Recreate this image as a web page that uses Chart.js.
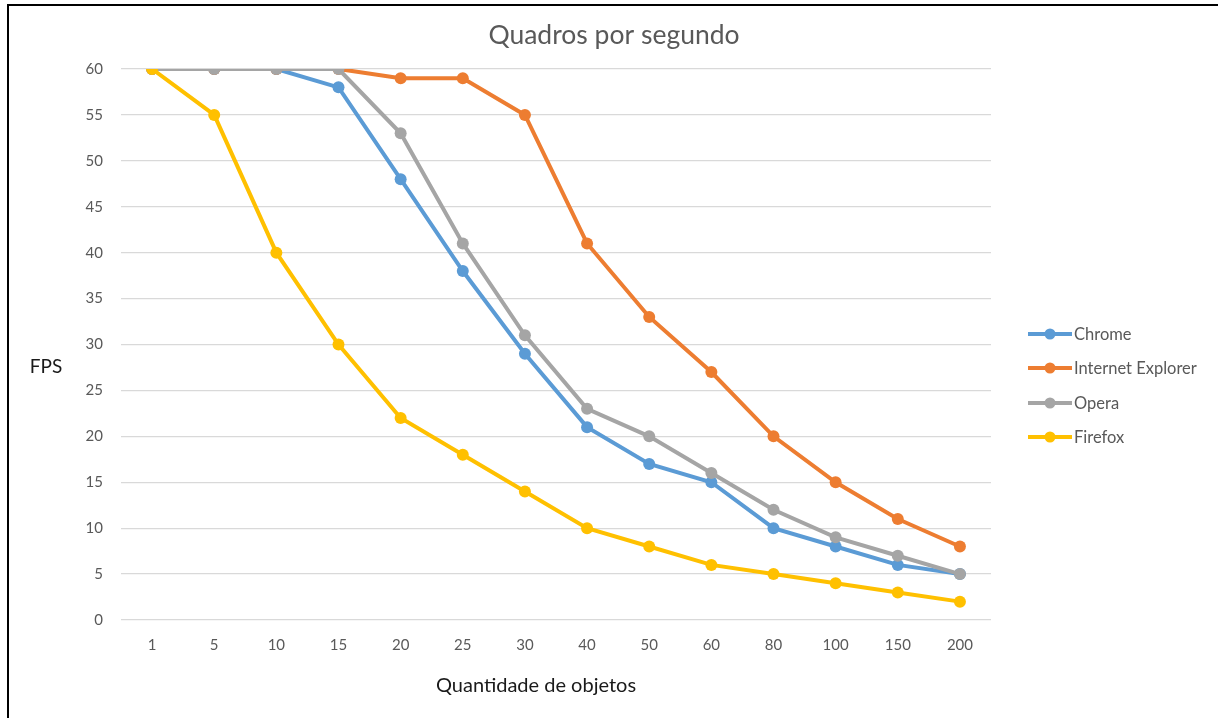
<!DOCTYPE html>
<html>
<head>
<meta charset="utf-8">
<script src="https://cdn.jsdelivr.net/npm/chart.js@4.4.1/dist/chart.umd.min.js"></script>
<style>
html,body{margin:0;padding:0;background:#fff;overflow:hidden;}
#wrap{position:relative;width:1218px;height:718px;}
#frame{position:absolute;left:7px;top:4px;width:1300px;height:800px;border-top:2px solid #000;border-left:2px solid #000;pointer-events:none;}
canvas{position:absolute;left:0;top:0;}
</style>
</head>
<body>
<div id="wrap">
<canvas id="c" width="1218" height="718"></canvas>
<div id="frame"></div>
</div>
<script>
const categories = ['1','5','10','15','20','25','30','40','50','60','80','100','150','200'];
const chrome   = [60,60,60,58,48,38,29,21,17,15,10,8,6,5];
const ie       = [60,60,60,60,59,59,55,41,33,27,20,15,11,8];
const opera    = [60,60,60,60,53,41,31,23,20,16,12,9,7,5];
const firefox  = [60,55,40,30,22,18,14,10,8,6,5,4,3,2];
const seriesNames = ['Chrome','Internet Explorer','Opera','Firefox'];
const seriesColors = ['#5B9BD5','#ED7D31','#A5A5A5','#FFC000'];
const chartTitle = 'Quadros por segundo';
const yTitle = 'FPS';
const xTitle = 'Quantidade de objetos';

const FONT = 'Lato, "Open Sans", sans-serif';

function ds(i, data, order){
  return {label: seriesNames[i], data, borderColor: seriesColors[i], backgroundColor: seriesColors[i],
    borderWidth: 4, pointRadius: 6, pointHoverRadius: 6, pointBorderWidth: 0, tension: 0, order};
}

const extras = {
  id: 'extras',
  afterDraw(chart){
    const ctx = chart.ctx;
    ctx.save();
    ctx.fillStyle = '#595959';
    ctx.font = '26.5px ' + FONT;
    ctx.textAlign = 'center';
    ctx.textBaseline = 'middle';
    ctx.fillText(chartTitle, 614, 35);
    ctx.fillStyle = '#1a1a1a';
    ctx.font = '20px ' + FONT;
    ctx.fillText(xTitle, 536, 686);
    ctx.font = '19px ' + FONT;
    ctx.fillText(yTitle, 46, 367);
    // legend
    const ys = [334, 368, 403, 437];
    ctx.font = '16.5px ' + FONT;
    ctx.textAlign = 'left';
    chart.data.datasets.forEach((d, i) => {
      const y = ys[i];
      ctx.strokeStyle = d.borderColor;
      ctx.lineWidth = 4;
      ctx.beginPath(); ctx.moveTo(1028, y); ctx.lineTo(1072, y); ctx.stroke();
      ctx.fillStyle = d.borderColor;
      ctx.beginPath(); ctx.arc(1050, y, 5.5, 0, Math.PI*2); ctx.fill();
      ctx.fillStyle = '#595959';
      ctx.fillText(d.label, 1074, y + 1);
    });
    ctx.restore();
  }
};

new Chart(document.getElementById('c'), {
  type: 'line',
  data: {
    labels: categories,
    datasets: [ds(0, chrome, 4), ds(1, ie, 3), ds(2, opera, 2), ds(3, firefox, 1)]
  },
  options: {
    responsive: false,
    animation: false,
    events: [],
    layout: {padding: {left: 0, right: 227, top: 69, bottom: 0}},
    plugins: {legend: {display: false}, title: {display: false}, tooltip: {enabled: false}},
    scales: {
      x: {
        offset: true,
        grid: {display: false, drawTicks: false},
        border: {display: false},
        ticks: {color: '#595959', font: {family: FONT, size: 15}, padding: 16, maxRotation: 0, autoSkip: false},
        afterFit(a){ a.height = 98; }
      },
      y: {
        min: 0, max: 60,
        grid: {color: '#D9D9D9', lineWidth: 1.3, drawTicks: false},
        border: {display: false},
        ticks: {stepSize: 5, color: '#595959', font: {family: FONT, size: 15}, padding: 18},
        afterFit(a){ a.width = 121; }
      }
    }
  },
  plugins: [extras]
});
</script>
</body>
</html>
